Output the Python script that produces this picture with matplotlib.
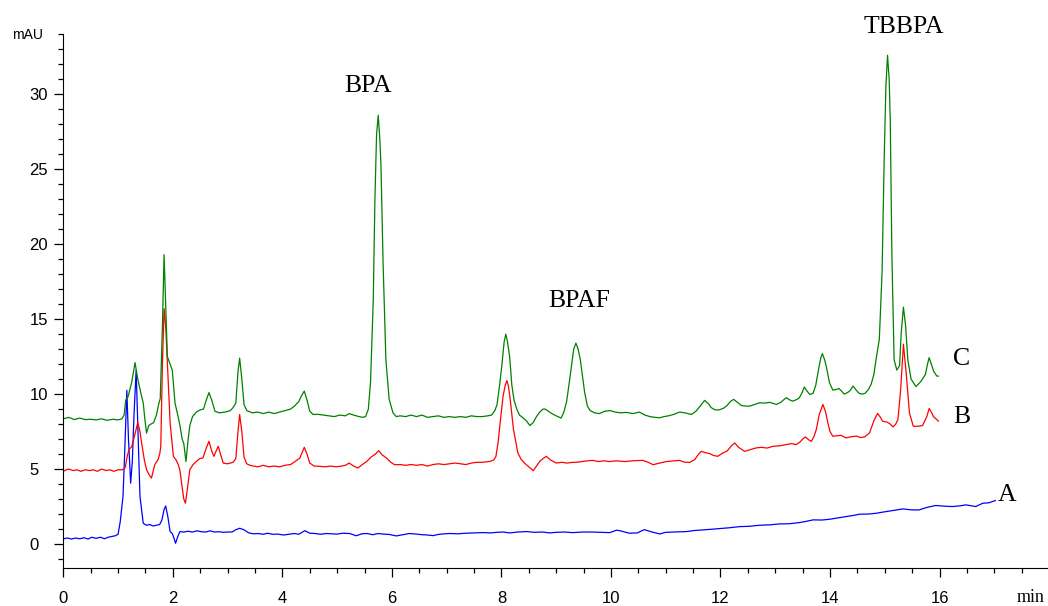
import matplotlib
matplotlib.use("Agg")
import matplotlib.pyplot as plt
from matplotlib.ticker import MultipleLocator


###########################################
#        chromatogram traces (min, mAU)
###########################################
# A - blank
t_A = [0.00, 0.08, 0.15, 0.22, 0.30, 0.38, 0.45, 0.52, 0.60, 0.68, 0.75, 0.82, 0.88, 0.95,
       1.00, 1.04, 1.07, 1.09, 1.12, 1.16, 1.19, 1.23, 1.26, 1.29, 1.33, 1.36, 1.40, 1.46,
       1.52, 1.58, 1.64, 1.70, 1.76, 1.80, 1.84, 1.87, 1.91, 1.95, 1.99, 2.02, 2.05, 2.09,
       2.13, 2.20, 2.28, 2.36, 2.44, 2.52, 2.60, 2.68, 2.76, 2.84, 2.92, 3.00, 3.08, 3.15,
       3.22, 3.30, 3.38, 3.47, 3.56, 3.65, 3.73, 3.82, 3.92, 4.02, 4.12, 4.22, 4.30, 4.41,
       4.50, 4.60, 4.70, 4.80, 4.90, 5.00, 5.10, 5.23, 5.35, 5.45, 5.55, 5.65, 5.75, 5.85,
       5.95, 6.08, 6.20, 6.32, 6.45, 6.55, 6.65, 6.75, 6.85, 6.96, 7.06, 7.20, 7.35, 7.50,
       7.66, 7.80, 7.92, 8.03, 8.15, 8.30, 8.46, 8.60, 8.75, 8.88, 9.00, 9.15, 9.30, 9.49,
       9.65, 9.80, 9.98, 10.10, 10.16, 10.25, 10.34, 10.48, 10.61, 10.75, 10.89, 11.00,
       11.15, 11.25, 11.38, 11.52, 11.68, 11.82, 11.98, 12.15, 12.35, 12.52, 12.71, 12.90,
       13.08, 13.25, 13.44, 13.55, 13.69, 13.85, 13.99, 14.15, 14.29, 14.42, 14.54, 14.70,
       14.84, 15.02, 15.18, 15.33, 15.48, 15.62, 15.78, 15.93, 16.10, 16.24, 16.38, 16.48,
       16.58, 16.66, 16.79, 16.90, 17.02]
y_A = [0.35, 0.40, 0.33, 0.40, 0.35, 0.42, 0.33, 0.45, 0.38, 0.45, 0.35, 0.45, 0.50, 0.55,
       0.65, 1.50, 2.50, 3.17, 6.00, 10.25, 7.00, 4.06, 5.50, 8.53, 11.59, 8.00, 3.17, 1.38,
       1.25, 1.30, 1.20, 1.25, 1.30, 1.60, 2.30, 2.54, 1.80, 0.83, 0.70, 0.40, 0.05, 0.50,
       0.83, 0.80, 0.85, 0.80, 0.88, 0.82, 0.80, 0.88, 0.80, 0.82, 0.78, 0.80, 0.80, 0.95,
       1.05, 0.95, 0.75, 0.68, 0.70, 0.65, 0.72, 0.65, 0.66, 0.60, 0.65, 0.70, 0.65, 0.89,
       0.72, 0.70, 0.65, 0.70, 0.68, 0.66, 0.72, 0.70, 0.55, 0.68, 0.70, 0.62, 0.70, 0.66,
       0.64, 0.54, 0.62, 0.70, 0.66, 0.62, 0.60, 0.56, 0.64, 0.68, 0.70, 0.68, 0.72, 0.74,
       0.76, 0.74, 0.78, 0.80, 0.74, 0.80, 0.83, 0.78, 0.80, 0.74, 0.78, 0.80, 0.76, 0.80,
       0.80, 0.78, 0.76, 0.92, 0.89, 0.80, 0.72, 0.74, 0.96, 0.80, 0.67, 0.78,
       0.80, 0.82, 0.83, 0.90, 0.94, 0.98, 1.03, 1.08, 1.16, 1.18, 1.25, 1.28,
       1.34, 1.35, 1.43, 1.50, 1.61, 1.60, 1.65, 1.75, 1.83, 1.90, 1.99, 2.00,
       2.05, 2.16, 2.25, 2.34, 2.28, 2.27, 2.45, 2.57, 2.52, 2.50, 2.55, 2.61,
       2.55, 2.50, 2.72, 2.75, 2.90]

# B - spiked sample
t_B = [0.00, 0.05, 0.10, 0.18, 0.25, 0.32, 0.40, 0.48, 0.55, 0.62, 0.70, 0.78, 0.85, 0.92,
       1.00, 1.08, 1.13, 1.17, 1.20, 1.25, 1.30, 1.36, 1.40, 1.43, 1.48, 1.52, 1.57, 1.61,
       1.65, 1.67, 1.73, 1.76, 1.78, 1.81, 1.84, 1.87, 1.90, 1.95, 2.01, 2.06, 2.10, 2.13,
       2.16, 2.20, 2.23, 2.27, 2.31, 2.37, 2.43, 2.49, 2.55, 2.61, 2.66, 2.71, 2.75, 2.79,
       2.83, 2.87, 2.92, 3.00, 3.10, 3.15, 3.19, 3.22, 3.26, 3.30, 3.35, 3.41, 3.47, 3.55,
       3.65, 3.75, 3.85, 3.95, 4.05, 4.15, 4.25, 4.32, 4.36, 4.40, 4.45, 4.50, 4.58, 4.68,
       4.78, 4.88, 4.98, 5.08, 5.15, 5.22, 5.30, 5.38, 5.46, 5.54, 5.62, 5.70, 5.76, 5.82,
       5.90, 5.98, 6.05, 6.15, 6.25, 6.35, 6.45, 6.55, 6.65, 6.75, 6.85, 6.95, 7.05, 7.15,
       7.24, 7.35, 7.45, 7.55, 7.65, 7.79, 7.86, 7.90, 7.94, 7.97, 8.03, 8.07, 8.10, 8.13,
       8.16, 8.22, 8.30, 8.36, 8.42, 8.50, 8.58, 8.64, 8.70, 8.76, 8.82, 8.90, 9.00, 9.10,
       9.20, 9.30, 9.37, 9.47, 9.57, 9.67, 9.77, 9.87, 9.97, 10.10, 10.25, 10.40, 10.58,
       10.68, 10.77, 10.89, 11.01, 11.15, 11.25, 11.35, 11.44, 11.53, 11.60, 11.65, 11.72,
       11.80, 11.88, 11.95, 12.04, 12.12, 12.20, 12.26, 12.33, 12.44, 12.55, 12.65, 12.75,
       12.85, 12.96, 13.08, 13.20, 13.30, 13.38, 13.45, 13.50, 13.55, 13.61, 13.66, 13.71,
       13.75, 13.80, 13.87, 13.92, 13.96, 14.00, 14.05, 14.12, 14.20, 14.29, 14.38, 14.48,
       14.56, 14.63, 14.72, 14.77, 14.81, 14.87, 14.92, 14.96, 15.01, 15.05, 15.10, 15.15,
       15.20, 15.24, 15.29, 15.34, 15.39, 15.45, 15.52, 15.60, 15.69, 15.77, 15.81, 15.85,
       15.89, 15.95, 15.98]
y_B = [4.85, 4.95, 5.00, 4.90, 4.95, 4.85, 4.95, 4.90, 4.95, 4.85, 5.00, 4.90, 4.95, 4.85,
       4.95, 4.95, 5.10, 5.90, 6.30, 6.50, 7.20, 8.10, 7.50, 6.74, 5.60, 4.96, 4.60, 4.40,
       5.00, 5.29, 5.63, 6.00, 6.50, 12.00, 15.70, 14.50, 12.10, 8.10, 5.85, 5.60, 5.29, 4.90,
       4.06, 3.00, 2.72, 3.80, 4.96, 5.30, 5.51, 5.70, 5.74, 6.40, 6.85, 6.20, 5.85, 6.20,
       6.52, 6.00, 5.40, 5.35, 5.45, 5.70, 7.50, 8.64, 7.50, 5.80, 5.35, 5.25, 5.20, 5.15,
       5.25, 5.15, 5.20, 5.15, 5.25, 5.30, 5.55, 5.74, 6.10, 6.45, 6.00, 5.40, 5.20, 5.18,
       5.15, 5.20, 5.15, 5.20, 5.25, 5.40, 5.20, 5.07, 5.30, 5.51, 5.80, 6.00, 6.23, 5.95,
       5.74, 5.45, 5.29, 5.30, 5.25, 5.30, 5.25, 5.30, 5.20, 5.30, 5.35, 5.30, 5.35, 5.40,
       5.36, 5.30, 5.40, 5.45, 5.45, 5.51, 5.60, 5.85, 6.80, 7.86, 9.87, 10.60, 10.90, 10.50,
       9.65, 7.64, 6.07, 5.65, 5.40, 5.15, 4.89, 5.20, 5.51, 5.70, 5.85, 5.60, 5.40, 5.45,
       5.40, 5.45, 5.45, 5.50, 5.55, 5.58, 5.50, 5.55, 5.50, 5.55, 5.50, 5.55, 5.58,
       5.45, 5.29, 5.40, 5.50, 5.55, 5.58, 5.45, 5.45, 5.63, 6.00, 6.18, 6.10,
       6.03, 5.90, 5.85, 6.07, 6.20, 6.55, 6.74, 6.45, 6.18, 6.30, 6.41, 6.45,
       6.40, 6.52, 6.55, 6.63, 6.70, 6.63, 6.80, 7.00, 7.14, 6.95, 6.85, 7.20,
       7.64, 8.60, 9.31, 8.80, 8.08, 7.50, 7.19, 7.22, 7.25, 7.08, 7.15, 7.20,
       7.10, 7.14, 7.41, 7.90, 8.31, 8.71, 8.45, 8.19, 8.15, 8.12, 8.00, 7.81,
       8.00, 8.31, 10.31, 13.33, 11.43, 8.75, 7.86, 7.85, 7.90, 8.53, 9.04, 8.80,
       8.49, 8.30, 8.19]

# C - real sample
t_C = [0.00, 0.10, 0.20, 0.30, 0.40, 0.50, 0.60, 0.70, 0.80, 0.90, 1.00, 1.07, 1.11, 1.14,
       1.18, 1.25, 1.31, 1.36, 1.42, 1.46, 1.49, 1.52, 1.56, 1.60, 1.65, 1.70, 1.74, 1.77,
       1.81, 1.84, 1.87, 1.90, 1.95, 1.99, 2.04, 2.09, 2.13, 2.17, 2.20, 2.24, 2.28, 2.31,
       2.36, 2.43, 2.50, 2.56, 2.61, 2.66, 2.71, 2.77, 2.85, 2.95, 3.05, 3.10, 3.15, 3.19,
       3.22, 3.26, 3.30, 3.35, 3.45, 3.55, 3.65, 3.75, 3.85, 3.95, 4.05, 4.15, 4.22, 4.30,
       4.35, 4.40, 4.45, 4.50, 4.56, 4.65, 4.75, 4.85, 4.95, 5.05, 5.15, 5.22, 5.30, 5.40,
       5.47, 5.52, 5.57, 5.61, 5.66, 5.69, 5.72, 5.75, 5.78, 5.80, 5.84, 5.89, 5.95, 6.02,
       6.08, 6.15, 6.25, 6.35, 6.45, 6.55, 6.65, 6.75, 6.85, 6.95, 7.05, 7.15, 7.25, 7.35,
       7.45, 7.55, 7.65, 7.75, 7.82, 7.88, 7.92, 7.97, 8.01, 8.05, 8.08, 8.11, 8.15, 8.19,
       8.23, 8.28, 8.33, 8.40, 8.46, 8.52, 8.58, 8.64, 8.70, 8.76, 8.80, 8.86, 8.92, 9.00,
       9.09, 9.14, 9.19, 9.24, 9.28, 9.32, 9.36, 9.40, 9.44, 9.48, 9.52, 9.57, 9.62, 9.70,
       9.79, 9.88, 9.98, 10.08, 10.18, 10.28, 10.40, 10.52, 10.62, 10.71, 10.80, 10.89,
       10.97, 11.05, 11.15, 11.25, 11.35, 11.47, 11.55, 11.63, 11.71, 11.78, 11.83, 11.90,
       11.98, 12.05, 12.11, 12.18, 12.24, 12.31, 12.38, 12.46, 12.53, 12.62, 12.71, 12.80,
       12.90, 13.02, 13.10, 13.20, 13.27, 13.32, 13.40, 13.44, 13.49, 13.53, 13.58, 13.63,
       13.69, 13.74, 13.78, 13.83, 13.86, 13.90, 13.93, 13.99, 14.05, 14.11, 14.16, 14.21,
       14.26, 14.32, 14.37, 14.42, 14.47, 14.53, 14.59, 14.64, 14.70, 14.75, 14.80, 14.84,
       14.90, 14.95, 14.99, 15.02, 15.05, 15.08, 15.10, 15.13, 15.17, 15.22, 15.27, 15.30,
       15.34, 15.38, 15.42, 15.48, 15.57, 15.66, 15.74, 15.78, 15.81, 15.85, 15.89, 15.95,
       15.98]
y_C = [8.35, 8.45, 8.30, 8.40, 8.30, 8.32, 8.28, 8.35, 8.25, 8.32, 8.28, 8.35, 8.60, 9.60,
       9.80, 10.80, 12.10, 11.00, 10.00, 9.40, 8.30, 7.40, 7.90, 8.00, 8.10, 8.60, 9.30, 9.70,
       14.50, 19.30, 16.00, 12.50, 12.00, 11.60, 9.40, 8.60, 7.90, 7.00, 6.70, 5.50, 7.00, 7.90,
       8.50, 8.80, 8.95, 9.00, 9.60, 10.10, 9.60, 8.85, 8.75, 8.80, 8.90, 9.10, 9.40, 11.50,
       12.40, 11.00, 9.30, 8.90, 8.75, 8.80, 8.70, 8.80, 8.70, 8.80, 8.90, 9.00, 9.20, 9.50,
       9.90, 10.20, 9.60, 8.86, 8.64, 8.65, 8.60, 8.55, 8.50, 8.60, 8.55, 8.70, 8.60, 8.50,
       8.45, 8.50, 9.00, 10.80, 16.30, 23.00, 27.30, 28.60, 27.00, 25.30, 18.60, 12.30, 9.65, 8.75,
       8.50, 8.55, 8.50, 8.60, 8.50, 8.60, 8.45, 8.50, 8.55, 8.45, 8.50, 8.45, 8.50, 8.45,
       8.55, 8.50, 8.50, 8.55, 8.60, 8.90, 9.30, 10.70, 12.00, 13.50, 14.00, 13.50, 12.50, 10.60,
       9.60, 9.00, 8.60, 8.40, 8.20, 7.90, 8.10, 8.50, 8.80, 9.00, 9.00, 8.85, 8.70, 8.55,
       8.40, 8.80, 9.50, 10.80, 11.90, 13.00, 13.40, 13.00, 12.30, 11.20, 10.10, 9.20, 8.90, 8.75,
       8.70, 8.85, 8.90, 8.80, 8.75, 8.78, 8.70, 8.80, 8.60, 8.50, 8.45, 8.42,
       8.50, 8.55, 8.65, 8.80, 8.75, 8.64, 8.85, 9.20, 9.58, 9.35, 9.10, 8.95,
       8.95, 9.05, 9.20, 9.50, 9.65, 9.45, 9.24, 9.20, 9.20, 9.30, 9.42, 9.40,
       9.45, 9.31, 9.45, 9.76, 9.60, 9.53, 9.65, 9.76, 10.10, 10.47, 10.20, 9.98,
       10.05, 10.60, 11.43, 12.40, 12.70, 12.30, 11.88, 10.76, 10.27, 10.30, 10.38, 10.20,
       10.00, 10.10, 10.25, 10.54, 10.30, 10.05, 10.00, 10.05, 10.30, 10.65, 11.30, 12.30,
       13.66, 18.10, 25.90, 30.50, 32.60, 31.00, 28.20, 19.20, 12.30, 11.60, 11.90, 14.10,
       15.80, 14.55, 12.30, 11.00, 10.50, 10.85, 11.30, 12.00, 12.43, 12.00, 11.54, 11.20,
       11.20]

# peak names and trace labels (min, mAU of text baseline)
peak_names = ["BPA", "BPAF", "TBBPA"]
peak_pos = [(5.57, 30.15), (9.42, 15.81), (15.34, 34.09)]
trace_names = ["A", "B", "C"]
trace_pos = [(17.24, 2.87), (16.40, 8.07), (16.41, 11.94)]

###########################################
#                 plot
###########################################
fig = plt.figure(figsize=(10.48, 6.06), dpi=100)
ax = fig.add_axes([63.3 / 1048, (606 - 568.3) / 606, (1048 - 63.3) / 1048, (568.3 - 34.3) / 606])

ax.plot(t_A, y_A, color="#0000ff", lw=0.9)
ax.plot(t_B, y_B, color="#ff0000", lw=0.9)
ax.plot(t_C, y_C, color="#008000", lw=0.9)

ax.set_xlim(0, 17.98)
ax.set_ylim(-1.62, 34.0)

ax.spines["top"].set_visible(False)
ax.spines["right"].set_visible(False)
ax.xaxis.set_major_locator(MultipleLocator(2))
ax.xaxis.set_minor_locator(MultipleLocator(0.5))
ax.yaxis.set_major_locator(MultipleLocator(5))
ax.yaxis.set_minor_locator(MultipleLocator(1))
ax.tick_params(which="major", length=6.5, width=0.9, direction="out")
ax.tick_params(which="minor", length=3.3, width=0.9, direction="out")
ax.tick_params(axis="x", which="major", pad=10, labelsize=12)
ax.tick_params(axis="y", which="major", pad=18, labelsize=12)
for lab in ax.get_xticklabels() + ax.get_yticklabels():
    lab.set_fontfamily("Liberation Sans")
for lab in ax.get_yticklabels():
    lab.set_ha("left")

serif = "Liberation Serif"
for name, (x, y) in zip(peak_names, peak_pos):
    ax.text(x, y, name, ha="center", va="baseline", fontsize=18.5, family=serif, clip_on=False)
for name, (x, y) in zip(trace_names, trace_pos):
    ax.text(x, y, name, ha="center", va="baseline", fontsize=18.5, family=serif, clip_on=False)

fig.text(28 / 1048, 1 - 35 / 606, "mAU", ha="center", va="center", fontsize=10, family="Liberation Sans")
fig.text(1031 / 1048, 1 - 598 / 606, "min", ha="center", va="center", fontsize=13, family=serif)

fig.savefig("out.png", dpi=100)
